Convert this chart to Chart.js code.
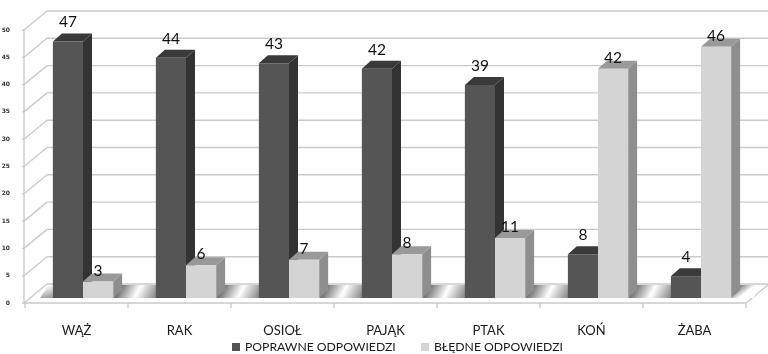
<!DOCTYPE html>
<html>
<head>
<meta charset="utf-8">
<title>Odpowiedzi</title>
<script src="https://cdn.jsdelivr.net/npm/chart.js@4/dist/chart.umd.min.js"></script>
<style>
    html, body { margin: 0; padding: 0; background: #ffffff; }
    canvas { display: block; }
</style>
</head>
<body>
<canvas id="answersChart" width="768" height="354"></canvas>
<script>
// Chart values
const categories = ['WĄŻ', 'RAK', 'OSIOŁ', 'PAJĄK', 'PTAK', 'KOŃ', 'ŻABA'];
const correctAnswers = [47, 44, 43, 42, 39, 8, 4];
const wrongAnswers = [3, 6, 7, 8, 11, 42, 46];
const seriesNames = ['POPRAWNE ODPOWIEDZI', 'BŁĘDNE ODPOWIEDZI'];

// Colours: front, side and top of each series
const barColors = [
    { front: '#555555', side: '#333333', top: '#3a3a3a' },
    { front: '#d4d4d4', side: '#8e8e8e', top: '#999999' }
];
const gridColor = '#cacaca';

// Offsets of the fake 3D box, in pixels
const wallX = 23, wallY = 19;     // back wall, from the front plane
const barX = 6.5, barY = 5;       // bars, from the front plane
const depthX = 9, depthY = 8;     // depth of one bar

function line(ctx, x1, y1, x2, y2) {
    ctx.beginPath();
    ctx.moveTo(x1, y1);
    ctx.lineTo(x2, y2);
    ctx.stroke();
}

function polygon(ctx, points, fill) {
    ctx.beginPath();
    ctx.moveTo(points[0][0], points[0][1]);
    points.slice(1).forEach(p => ctx.lineTo(p[0], p[1]));
    ctx.closePath();
    ctx.fillStyle = fill;
    ctx.fill();
}

// Walls, floor and axis ticks behind the bars, value labels and legend on top
const boxPlugin = {
    id: 'box3d',
    beforeDatasetsDraw(chart) {
        const { ctx, chartArea, scales } = chart;
        const yScale = scales.y, xScale = scales.x;
        const step = xScale.getPixelForValue(1) - xScale.getPixelForValue(0);
        const zero = yScale.getPixelForValue(0);

        ctx.save();
        ctx.strokeStyle = gridColor;
        ctx.lineWidth = 1.4;
        yScale.ticks.forEach(t => {
            const y = yScale.getPixelForValue(t.value);
            line(ctx, chartArea.left - 1, y, chartArea.left - 1 + wallX, y - wallY);
            line(ctx, chartArea.left - 1 + wallX, y - wallY, 768, y - wallY);
            line(ctx, chartArea.left - 3, y, chartArea.left - 1, y);
        });
        line(ctx, chartArea.left - 1, yScale.getPixelForValue(50), chartArea.left - 1, zero);
        line(ctx, chartArea.left - 1, zero, chartArea.right, zero);
        line(ctx, chartArea.right, zero, chartArea.right + wallX, zero - wallY);
        for (let i = 0; i <= categories.length; i++) {
            const x = xScale.getPixelForValue(i) - step / 2;
            line(ctx, x, zero, x, zero + 5);
        }
        ctx.restore();

        // Everything that belongs to the bars sits a little behind the front plane
        ctx.save();
        ctx.translate(barX, -barY);

        const dark = chart.getDatasetMeta(0).data;
        const light = chart.getDatasetMeta(1).data;
        const floorBack = zero - 13;

        // Floor shading between the groups of bars
        for (let i = 0; i <= categories.length; i++) {
            const from = i > 0 ? light[i - 1].x + light[i - 1].width / 2 : dark[0].x - dark[0].width / 2 - 13;
            const to = i < categories.length ? dark[i].x - dark[i].width / 2 : from + 22;
            const grad = ctx.createLinearGradient(from + 9, floorBack, to, zero + 4);
            if (i > 0) grad.addColorStop(0, '#777777');
            grad.addColorStop(i === 0 ? 0 : 0.45, '#ffffff');
            if (i < categories.length) grad.addColorStop(1, '#777777');
            polygon(ctx, [[from, zero], [from + 9, floorBack], [to + 9, floorBack], [to, zero]], grad);
        }

        // Side and top faces, darker series first so the lighter one covers it
        [dark, light].forEach((bars, s) => {
            bars.forEach(bar => {
                const l = bar.x - bar.width / 2, r = bar.x + bar.width / 2;
                polygon(ctx, [[r, bar.y], [r + depthX, bar.y - depthY], [r + depthX, bar.base - depthY], [r, bar.base]], barColors[s].side);
                polygon(ctx, [[l, bar.y], [l + depthX, bar.y - depthY], [r + depthX, bar.y - depthY], [r, bar.y]], barColors[s].top);
            });
        });
    },
    afterDatasetsDraw(chart) {
        const { ctx } = chart;
        ctx.restore();

        // Value labels over each bar
        ctx.save();
        ctx.font = '15.5px Lato';
        ctx.fillStyle = '#111111';
        ctx.textAlign = 'center';
        ctx.textBaseline = 'middle';
        const raise = [19, 11];
        chart.data.datasets.forEach((ds, s) => {
            chart.getDatasetMeta(s).data.forEach((bar, i) => {
                ctx.fillText(ds.data[i], bar.x + barX, bar.y - barY - raise[s]);
            });
        });

        // Legend under the category labels
        ctx.font = '12.2px Lato';
        ctx.textAlign = 'left';
        const legendBoxes = [232, 421];
        seriesNames.forEach((name, s) => {
            ctx.fillStyle = barColors[s].front;
            ctx.fillRect(legendBoxes[s], 343, 8, 8);
            ctx.fillStyle = '#1a1a1a';
            ctx.fillText(name, legendBoxes[s] + 13, 347.5);
        });
        ctx.restore();
    }
};

const ctx = document.getElementById('answersChart').getContext('2d');
new Chart(ctx, {
    type: 'bar',
    data: {
        labels: categories,
        datasets: [
            { label: seriesNames[0], data: correctAnswers, backgroundColor: barColors[0].front, clip: false },
            { label: seriesNames[1], data: wrongAnswers, backgroundColor: barColors[1].front, clip: false }
        ]
    },
    options: {
        responsive: false,
        animation: false,
        categoryPercentage: 0.585,
        barPercentage: 1,
        layout: { padding: { top: 30, right: 22, bottom: 0, left: 0 } },
        scales: {
            x: {
                grid: { display: false },
                border: { display: false },
                afterFit(scale) { scale.height = 51; },
                ticks: { color: '#1a1a1a', font: { family: 'Lato', size: 13 }, padding: 12, maxRotation: 0 }
            },
            y: {
                min: 0,
                max: 50,
                grid: { display: false },
                border: { display: false },
                afterFit(scale) { scale.width = 25; },
                ticks: { stepSize: 5, color: '#333333', font: { family: 'DejaVu Sans', size: 6, weight: 'bold' }, padding: 7 }
            }
        },
        plugins: {
            tooltip: { enabled: false },
            legend: { display: false }
        }
    },
    plugins: [boxPlugin]
});
</script>
</body>
</html>
